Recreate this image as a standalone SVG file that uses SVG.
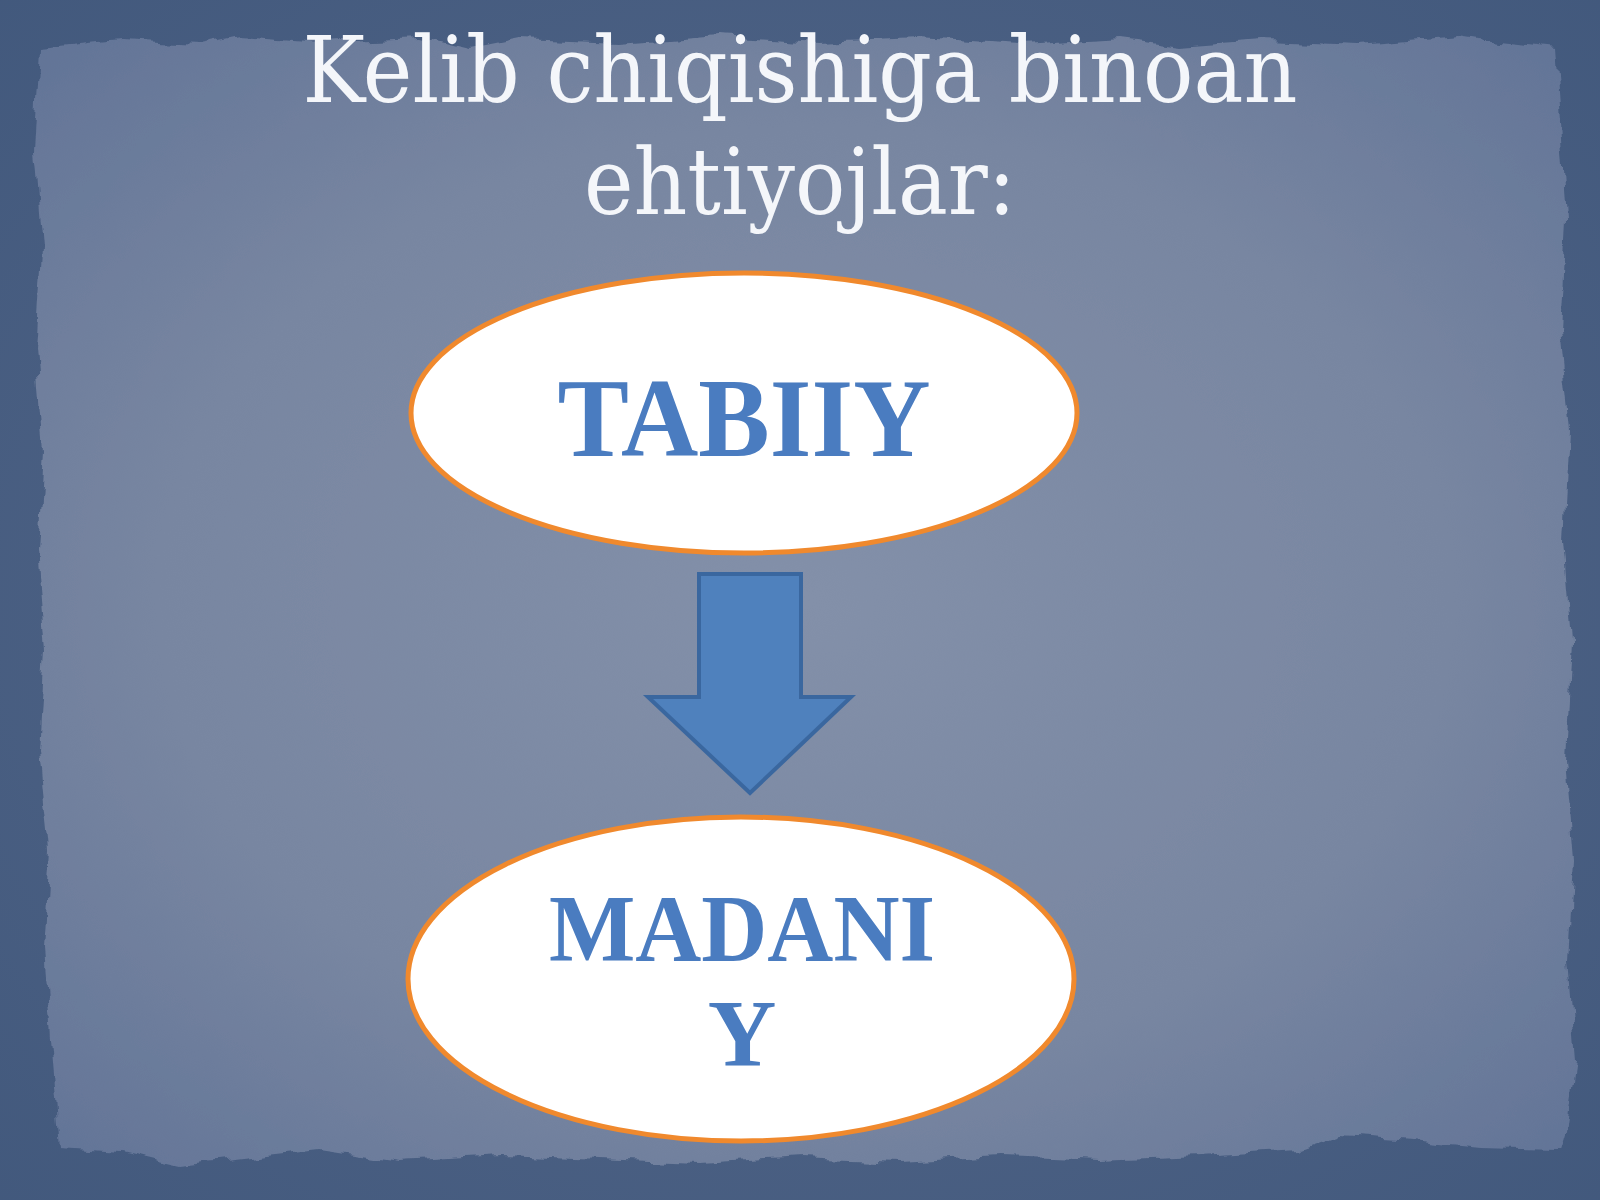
<svg xmlns="http://www.w3.org/2000/svg" width="1600" height="1200" viewBox="0 0 1600 1200">
  <defs>
    <radialGradient id="paperGrad" cx="50%" cy="50%" r="70%">
      <stop offset="0%" stop-color="#8390a9"/>
      <stop offset="60%" stop-color="#7886a1"/>
      <stop offset="100%" stop-color="#627497"/>
    </radialGradient>
    <radialGradient id="bgGrad" cx="50%" cy="50%" r="75%">
      <stop offset="0%" stop-color="#56698b"/>
      <stop offset="100%" stop-color="#41587c"/>
    </radialGradient>
    <filter id="torn" x="-5%" y="-5%" width="110%" height="110%">
      <feTurbulence type="fractalNoise" baseFrequency="0.035" numOctaves="3" seed="4" result="n"/>
      <feDisplacementMap in="SourceGraphic" in2="n" scale="14" xChannelSelector="R" yChannelSelector="G"/>
    </filter>
    <style>
      .title { font-family: "DejaVu Serif", "Liberation Serif", serif; font-size: 92px; fill: #f4f6fa; text-anchor: middle; }
      .node-ellipse { fill: #ffffff; stroke: #f0892d; stroke-width: 5; }
      .node-text { font-family: "Liberation Serif", "DejaVu Serif", serif; font-weight: bold; fill: #4a7cc0; text-anchor: middle; }
      .arrow { fill: #4f81bd; stroke: #3a679f; stroke-width: 4; stroke-linejoin: miter; }
    </style>
  </defs>

  <g id="background">
    <rect x="0" y="0" width="1600" height="1200" fill="url(#bgGrad)"/>
    <path filter="url(#torn)" fill="url(#paperGrad)" d="M 40 48 L 120 40 L 200 44 L 240 36 L 320 42 L 420 38 L 470 50 L 520 40 L 620 44 L 720 36 L 820 42 L 920 38 L 1020 44 L 1120 38 L 1180 46 L 1260 40 L 1360 44 L 1460 36 L 1500 42 L 1555 48 L 1560 120 L 1566 220 L 1560 330 L 1570 430 L 1564 540 L 1572 640 L 1566 760 L 1574 860 L 1568 960 L 1576 1060 L 1566 1130 L 1560 1150 L 1480 1148 L 1400 1140 L 1340 1136 L 1300 1150 L 1200 1156 L 1100 1160 L 1000 1156 L 900 1162 L 800 1158 L 700 1164 L 600 1160 L 500 1156 L 400 1162 L 320 1150 L 250 1158 L 180 1166 L 120 1152 L 60 1148 L 52 1050 L 44 950 L 50 850 L 40 750 L 46 650 L 38 550 L 44 450 L 36 350 L 42 250 L 34 150 Z"/>
  </g>

  <g id="title">
    <text class="title" x="800" y="102" textLength="995" lengthAdjust="spacingAndGlyphs">Kelib chiqishiga binoan</text>
    <text class="title" x="800" y="214" textLength="432" lengthAdjust="spacingAndGlyphs">ehtiyojlar:</text>
  </g>

  <g id="node-tabiiy">
    <ellipse class="node-ellipse" cx="744" cy="413" rx="333" ry="140"/>
    <text class="node-text" x="744" y="456" font-size="112" textLength="373" lengthAdjust="spacingAndGlyphs">TABIIY</text>
  </g>

  <g id="connectors">
    <path class="arrow" d="M 699 574 L 801 574 L 801 697 L 851 697 L 750 793 L 648 697 L 699 697 Z"/>
  </g>

  <g id="node-madaniy">
    <ellipse class="node-ellipse" cx="741" cy="979" rx="333" ry="162"/>
    <text class="node-text" x="742" y="961" font-size="95" textLength="386" lengthAdjust="spacingAndGlyphs">MADANI</text>
    <text class="node-text" x="742" y="1066" font-size="95">Y</text>
  </g>
</svg>
